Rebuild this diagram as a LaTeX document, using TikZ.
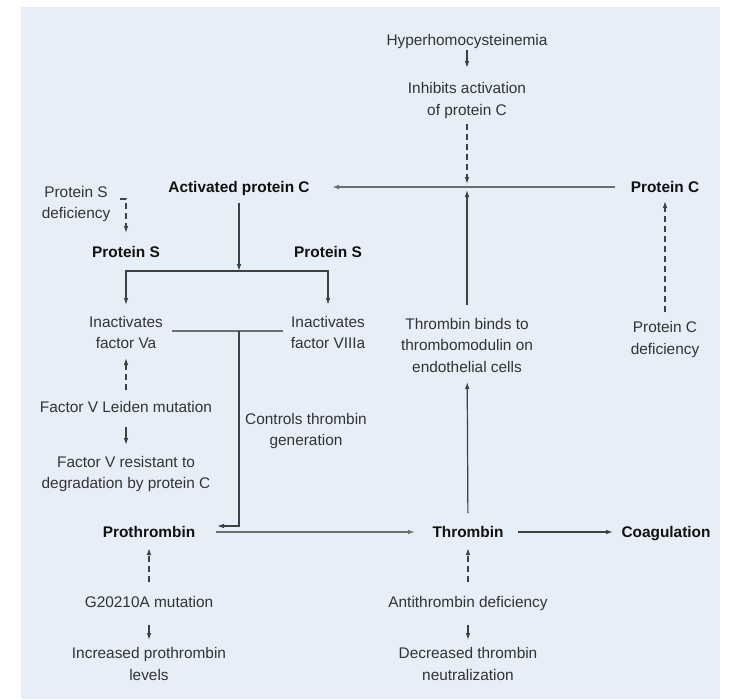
\documentclass[tikz,border=0pt]{standalone}
\usepackage{fontspec}
\setmainfont{Liberation Sans}
\usetikzlibrary{arrows.meta}
\definecolor{panel}{HTML}{E6EEF7}
\definecolor{txt}{HTML}{333333}
\definecolor{btxt}{HTML}{111111}
\definecolor{ln}{HTML}{404040}
\definecolor{gln}{HTML}{6E6E6E}
\tikzset{
  lbl/.style={align=center,text=txt,inner sep=0pt,text depth=0pt,font=\fontsize{15.4}{21.5}\selectfont},
  blbl/.style={align=center,text=btxt,inner sep=0pt,text depth=0pt,font=\fontsize{15.4}{21.5}\selectfont\bfseries},
  arr/.style={draw=ln,line width=1.2pt,-{Latex[length=7pt,width=4.6pt]}},
  darr/.style={arr,dash pattern=on 6pt off 4pt},
  garr/.style={arr,draw=gln,line width=1.7pt},
  plain/.style={draw=gln,line width=1.4pt}
}
\begin{document}
\begin{tikzpicture}[x=1pt,y=-1pt]
\useasboundingbox (0,0) rectangle (730,699);
\fill[white] (0,0) rectangle (730,699);
\fill[panel] (21,7) rectangle (720,699);

% nodes
\node[lbl]  (hyper)  at (467,40)  {Hyperhomocysteinemia};
\node[lbl]  (inhib)  at (467,99)  {Inhibits activation\\of protein C};
\node[blbl] (apc)    at (239,187) {Activated protein C};
\node[blbl] (pc)     at (665,187) {Protein C};
\node[lbl]  (psdef)  at (76,202.5) {Protein S\\deficiency};
\node[blbl] (psL)    at (126,252) {Protein S};
\node[blbl] (psR)    at (328,252) {Protein S};
\node[lbl]  (inVa)   at (126,332.5) {Inactivates\\factor Va};
\node[lbl]  (inVIII) at (328,332.5) {Inactivates\\factor VIIIa};
\node[lbl]  (fvl)    at (126,407) {Factor V Leiden mutation};
\node[lbl]  (fvres)  at (126,472.5) {Factor V resistant to\\degradation by protein C};
\node[lbl]  (ctrl)   at (306,429.5) {Controls thrombin\\generation};
\node[lbl]  (thbind) at (467,345) {Thrombin binds to\\thrombomodulin on\\endothelial cells};
\node[lbl]  (pcdef)  at (665,338) {Protein C\\deficiency};
\node[blbl] (proth)  at (149,532) {Prothrombin};
\node[blbl] (thromb) at (468,532) {Thrombin};
\node[blbl] (coag)   at (666,532) {Coagulation};
\node[lbl]  (g202)   at (149,602) {G20210A mutation};
\node[lbl]  (incr)   at (149,664) {Increased prothrombin\\levels};
\node[lbl]  (anti)   at (468,602) {Antithrombin deficiency};
\node[lbl]  (decr)   at (468,664) {Decreased thrombin\\neutralization};

% junctions
\coordinate (j1) at (467,187);
\coordinate (j2) at (239,271);
\coordinate (j3) at (239,331);
\coordinate (j4) at (239,526);
\coordinate (psx) at (120,199);

% connectors
\draw[arr,shorten <=10pt,shorten >=31pt] (hyper.center) -- (inhib.center);
\draw[darr,shorten <=25pt,shorten >=3pt] (inhib.center) -- (j1);
\draw[garr,shorten <=50pt,shorten >=93pt] (pc.center) -- (apc.center);
\draw[arr,shorten <=40pt,shorten >=3pt] (thbind.center) -- (j1);
\draw[arr,shorten <=19pt,shorten >=37pt] (thromb.center) -- (thbind.center);
\draw[darr,shorten <=26pt,shorten >=14pt] (pcdef.center) -- (pc.center);
\draw[arr,shorten <=16pt] (apc.center) -- (j2);
\draw[arr,shorten >=27.5pt] (j2) -| (inVa.center);
\draw[arr,shorten >=27.5pt] (j2) -| (inVIII.center);
\draw[darr,shorten >=19pt] (psx) -- (psx -| psL.center) -- (psL.center);
\draw[plain,shorten <=46pt,shorten >=45pt] (inVa.center |- j3) -- (inVIII.center |- j3);
\draw[arr,shorten >=68pt] (j3) -- (j4) -- (proth.center |- j4);
\draw[garr,line width=1.4pt,shorten <=67pt,shorten >=53pt] (proth.center) -- (thromb.center);
\draw[arr,shorten <=50pt,shorten >=53pt] (thromb.center) -- (coag.center);
\draw[darr,shorten <=17pt,shorten >=25.5pt] (fvl.center) -- (inVa.center);
\draw[arr,shorten <=20pt,shorten >=27.5pt] (fvl.center) -- (fvres.center);
\draw[darr,shorten <=20pt,shorten >=16pt] (g202.center) -- (proth.center);
\draw[arr,shorten <=23pt,shorten >=24pt] (g202.center) -- (incr.center);
\draw[darr,shorten <=20pt,shorten >=16pt] (anti.center) -- (thromb.center);
\draw[arr,shorten <=23pt,shorten >=24pt] (anti.center) -- (decr.center);
\end{tikzpicture}
\end{document}
